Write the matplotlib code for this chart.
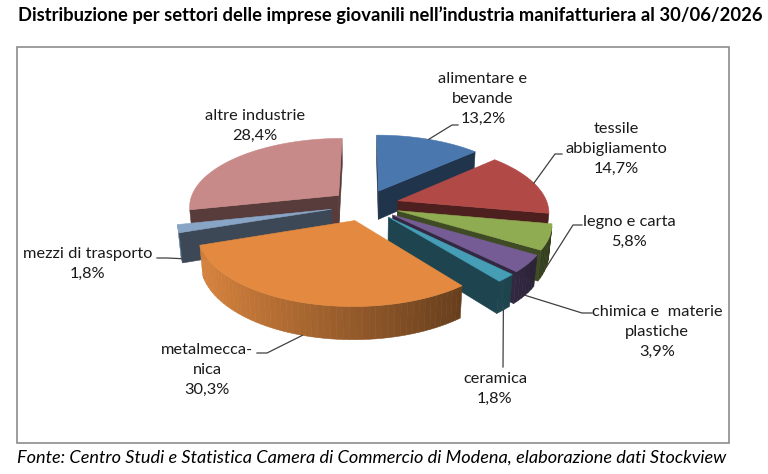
import numpy as np
import matplotlib
matplotlib.use("Agg")
from matplotlib import pyplot as plt
from matplotlib.patches import Polygon, Rectangle

# dati
settori = ["alimentare e\nbevande", "tessile\nabbigliamento", "legno e carta",
           "chimica e  materie\nplastiche", "ceramica", "metalmecca-\nnica",
           "mezzi di trasporto", "altre industrie"]
valori = [13.2, 14.7, 5.8, 3.9, 1.8, 30.3, 1.8, 28.4]
colori = ["#4F81BD", "#C0504D", "#9BBB59", "#8064A2", "#4BACC6", "#F79646",
          "#95B3D7", "#D99694"]

titolo = "Distribuzione per settori delle imprese giovanili nell\u2019industria manifatturiera al 30/06/2026"
fonte = "Fonte: Centro Studi e Statistica Camera di Commercio di Modena, elaborazione dati Stockview"

# posizione etichette (pixel) e gomito della linea guida
pos_etichette = [(483, 99), (616, 149), (629, 232), (657, 332), (495, 389),
                 (207, 370), (88, 264), (255, 126)]
gomiti = [(452, 125), (555, 154), (573, 225), (582, 313), (503, 367),
          (267, 353), (167, 258), None]
inizio_linea = [(458, 125), (562, 154), (582, 225), (592, 313), (503, 367),
                (257, 353), (157, 258), None]

# parametri prospettiva 3D
alpha = np.radians(27)
D = 6.0
S = 150.0
cx0, cy0 = 365, 205
esplosione = 0.23
spessore = 0.22
ca, sa = np.cos(alpha), np.sin(alpha)
cam = np.array([0.0, -D * ca, D * sa])


def proj(x, y, z):
    dx, dy, dz = x - cam[0], y - cam[1], z - cam[2]
    zc = dy * ca - dz * sa
    yc = dy * sa + dz * ca
    return cx0 + S * D * dx / zc, cy0 - S * D * yc / zc


def visibile(n, p):
    return np.dot(n, cam - np.array(p)) > 0


def scurisci(col, f):
    r, g, b = matplotlib.colors.to_rgb(col)
    return (min(r * f, 1), min(g * f, 1), min(b * f, 1))


fig = plt.figure(figsize=(7.68, 4.74), dpi=100)
ax = fig.add_axes([0, 0, 1, 1])
ax.set_xlim(0, 768)
ax.set_ylim(474, 0)
ax.axis("off")

ax.add_patch(Rectangle((17, 47), 712, 396, fill=False, edgecolor="#8C8C8C", lw=1.2))

tot = sum(valori)
cum = np.concatenate([[0], np.cumsum(valori)])
fette = []
for i, v in enumerate(valori):
    b = 90 - 360 * cum[i] / tot
    a = 90 - 360 * cum[i + 1] / tot
    m = np.radians((a + b) / 2)
    ox, oy = esplosione * np.cos(m), esplosione * np.sin(m)
    fette.append((np.sin(m), i, np.radians(a), np.radians(b), ox, oy))

# disegno dal fondo verso il davanti
ancore = {}
for prof, i, a, b, ox, oy in sorted(fette, key=lambda t: -t[0]):
    col = colori[i]
    th = np.linspace(a, b, max(int(np.degrees(b - a) / 2), 3))
    # parete esterna
    for t0, t1 in zip(th[:-1], th[1:]):
        tm = (t0 + t1) / 2
        n = np.array([np.cos(tm), np.sin(tm), 0])
        p = (ox + np.cos(tm), oy + np.sin(tm), -spessore / 2)
        if not visibile(n, p):
            continue
        f = np.clip(0.6 - 0.3 * np.cos(tm), 0.33, 0.85)
        pts = [proj(ox + np.cos(t0), oy + np.sin(t0), 0), proj(ox + np.cos(t1), oy + np.sin(t1), 0),
               proj(ox + np.cos(t1), oy + np.sin(t1), -spessore), proj(ox + np.cos(t0), oy + np.sin(t0), -spessore)]
        c = scurisci(col, f)
        ax.add_patch(Polygon(pts, closed=True, facecolor=c, edgecolor=c, lw=0.4))
    # facce radiali
    for t, n in [(a, np.array([np.sin(a), -np.cos(a), 0])), (b, np.array([-np.sin(b), np.cos(b), 0]))]:
        p = (ox + 0.5 * np.cos(t), oy + 0.5 * np.sin(t), -spessore / 2)
        if not visibile(n, p):
            continue
        pts = [proj(ox, oy, 0), proj(ox + np.cos(t), oy + np.sin(t), 0),
               proj(ox + np.cos(t), oy + np.sin(t), -spessore), proj(ox, oy, -spessore)]
        c = scurisci(col, 0.4)
        ax.add_patch(Polygon(pts, closed=True, facecolor=c, edgecolor=c, lw=0.4))
    # faccia superiore
    pts = [proj(ox, oy, 0)] + [proj(ox + np.cos(t), oy + np.sin(t), 0) for t in th]
    c = scurisci(col, 0.92)
    ax.add_patch(Polygon(pts, closed=True, facecolor=c, edgecolor=c, lw=0.4))
    tm = (a + b) / 2
    z = 0 if np.sin(tm) > 0 else -spessore
    ancore[i] = proj(ox + np.cos(tm), oy + np.sin(tm), z)

# etichette e linee guida
for i, lab in enumerate(settori):
    x, y = pos_etichette[i]
    ax.text(x, y, lab + "\n" + f"{valori[i]:.1f}%".replace(".", ","), ha="center", va="center",
            fontsize=11.8, family="Lato", color="#1A1A1A", linespacing=1.52)
    if gomiti[i] is not None:
        xs = [inizio_linea[i][0], gomiti[i][0], ancore[i][0]]
        ys = [inizio_linea[i][1], gomiti[i][1], ancore[i][1]]
        ax.plot(xs, ys, color="#404040", lw=0.9)

# titolo e fonte adattati alla larghezza
fig.canvas.draw()
r = fig.canvas.get_renderer()
t1 = ax.text(18, 15, titolo, ha="left", va="center", fontsize=12, fontweight="bold", family="Lato", color="black")
bb = t1.get_window_extent(r)
t1.set_fontsize(12 * (757 - 18) / bb.width)
t2 = ax.text(17, 458, fonte, ha="left", va="center", fontsize=12, style="italic", family="Lato", color="black")
bb = t2.get_window_extent(r)
t2.set_fontsize(12 * (725 - 17) / bb.width)

fig.savefig("out.png", dpi=100)
